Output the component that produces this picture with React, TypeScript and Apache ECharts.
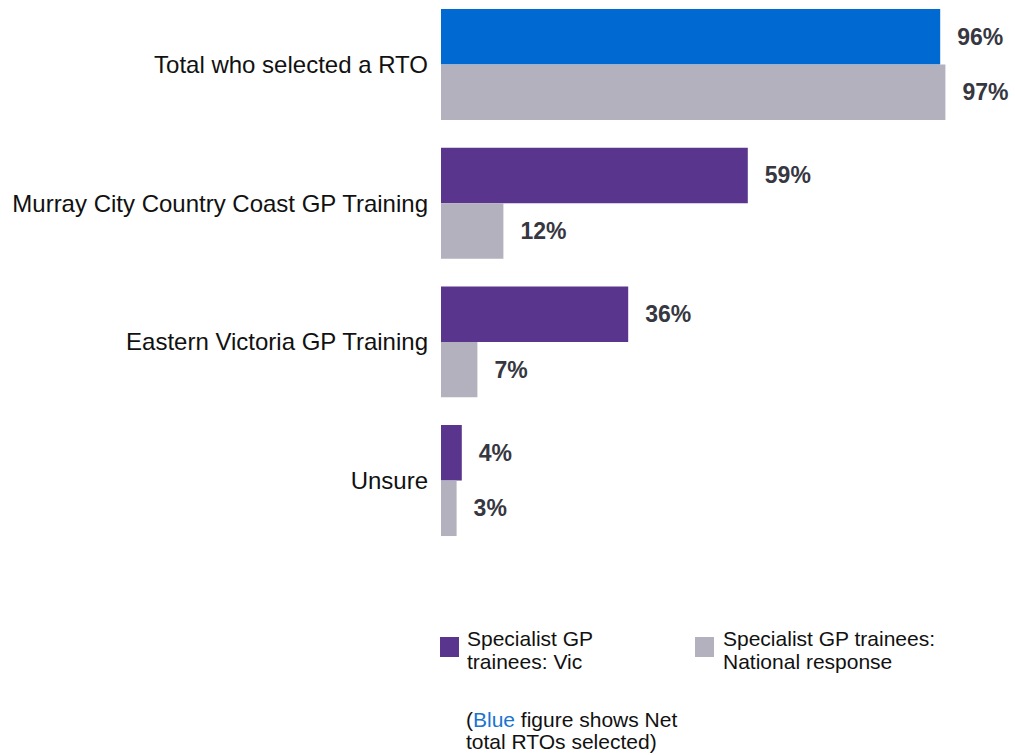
import React, { useEffect, useRef } from "react";
import * as echarts from "echarts";

const categories = [
  "Total who selected a RTO",
  "Murray City Country Coast GP Training",
  "Eastern Victoria GP Training",
  "Unsure",
];
const vicValues = [96, 59, 36, 4];
const nationalValues = [97, 12, 7, 3];
const seriesNames = ["Specialist GP trainees: Vic", "Specialist GP trainees: National response"];

const BLUE = "#006ad2";
const PURPLE = "#5a358e";
const GRAY = "#b2b1bd";
const LABEL = "#363741";
const FONT = "'Liberation Sans', Arial, sans-serif";
const OFF = 20; // container offset

export default function App() {
  const ref = useRef<HTMLDivElement>(null);
  useEffect(() => {
    if (!ref.current) return;
    const chart = echarts.init(ref.current, null, { renderer: "svg" });
    const labelCfg = {
      show: true,
      position: "right",
      distance: 17,
      formatter: "{c}%",
      fontFamily: FONT,
      fontSize: 23,
      fontWeight: "bold",
      color: LABEL,
    };
    chart.setOption({
      animation: false,
      grid: { left: 441, width: 520, top: OFF - 4.8, height: 554.7 },
      xAxis: { type: "value", min: 0, max: 100, show: false },
      yAxis: {
        type: "category",
        data: categories,
        inverse: true,
        axisLine: { show: false },
        axisTick: { show: false },
        axisLabel: {
          margin: 13,
          fontFamily: FONT,
          fontSize: 24,
          color: "#111111",
        },
      },
      series: [
        {
          name: seriesNames[0],
          type: "bar",
          barCategoryGap: "20%",
          barGap: "0%",
          data: vicValues.map((v, i) =>
            i === 0 ? { value: v, itemStyle: { color: BLUE } } : { value: v }
          ),
          itemStyle: { color: PURPLE },
          label: labelCfg,
        },
        {
          name: seriesNames[1],
          type: "bar",
          barCategoryGap: "20%",
          barGap: "0%",
          data: nationalValues,
          itemStyle: { color: GRAY },
          label: labelCfg,
        },
      ],
      graphic: [
        { type: "rect", left: 440, top: OFF + 637, shape: { width: 19, height: 20 }, style: { fill: PURPLE } },
        {
          type: "text",
          left: 467,
          top: OFF + 627,
          style: {
            text: "Specialist GP\ntrainees: Vic",
            font: `21px ${FONT}`,
            lineHeight: 23,
            fill: "#111111",
          },
        },
        { type: "rect", left: 695, top: OFF + 637, shape: { width: 19, height: 20 }, style: { fill: GRAY } },
        {
          type: "text",
          left: 723,
          top: OFF + 627,
          style: {
            text: "Specialist GP trainees:\nNational response",
            font: `21px ${FONT}`,
            lineHeight: 23,
            fill: "#111111",
          },
        },
        {
          type: "text",
          left: 466,
          top: OFF + 708,
          style: {
            text: "({b|Blue} figure shows Net\ntotal RTOs selected)",
            font: `21px ${FONT}`,
            lineHeight: 22,
            fill: "#111111",
            rich: {
              b: { fill: "#1a73d0", font: `21px ${FONT}`, lineHeight: 22 },
            },
          },
        },
      ],
    });
    return () => chart.dispose();
  }, []);
  return (
    <div
      ref={ref}
      style={{ position: "fixed", left: 0, top: -OFF, width: 1015, height: 755 + OFF, background: "#ffffff" }}
    />
  );
}
